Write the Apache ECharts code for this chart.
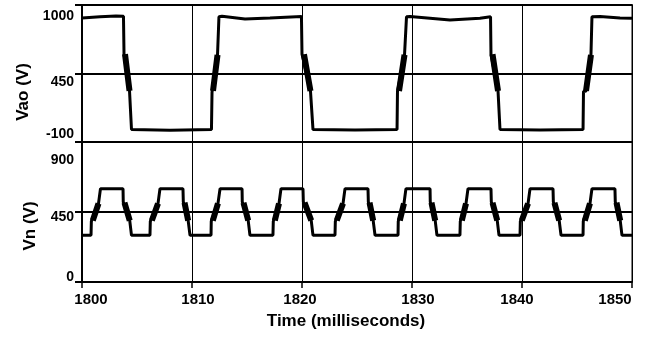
<!DOCTYPE html>
<html>
<head>
<meta charset="utf-8">
<script src="https://cdn.jsdelivr.net/npm/echarts@6/dist/echarts.min.js"></script>
<style>
html,body{margin:0;padding:0;background:#fff;}
#c{width:645px;height:339px;}
</style>
</head>
<body>
<div id="c"></div>
<script>
// ---- data (time in ms, voltage in V) ----
const xTicks = [1800, 1810, 1820, 1830, 1840, 1850];
const vaoTicks = [-100, 450, 1000];
const vnTicks = [0, 450, 900];

const vaoWave = [
 [1800.00,895],[1801.64,905],[1803.09,912],[1803.77,910],[1803.82,605],[1803.91,605],[1804.32,310],[1804.45,300],[1804.50,0],
 [1808.00,-5],[1811.77,0],[1811.82,300],[1811.91,310],[1812.32,600],[1812.36,605],[1812.45,905],[1812.73,910],
 [1814.82,888],[1817.09,895],[1819.95,908],[1820.00,605],[1820.18,605],[1820.77,310],[1820.91,300],[1821.00,0],
 [1824.82,-3],[1828.64,0],[1828.68,305],[1828.82,310],[1829.32,600],[1829.45,605],[1829.50,905],[1829.82,908],
 [1833.45,880],[1836.18,893],[1837.14,905],[1837.18,605],[1837.32,605],[1837.82,310],[1837.91,300],[1838.00,0],
 [1841.64,-3],[1845.55,0],[1845.59,305],[1845.82,310],[1846.27,600],[1846.32,605],[1846.36,905],[1847.09,907],
 [1848.91,896],[1850.00,893]
];
const vaoSwitching = [
 [1803.91,605,1804.32,310],[1811.91,310,1812.32,600],[1820.18,605,1820.77,310],
 [1828.82,310,1829.32,600],[1837.32,605,1837.82,310],[1845.82,310,1846.27,600]
];

const vnWave = [
 [1800.00,300],
 [1800.82,300],[1800.85,390],[1800.98,395],[1801.50,505],[1801.61,515],[1801.68,600],
 [1803.73,600],[1803.75,515],[1803.86,510],[1804.34,395],[1804.45,390],[1804.50,300],
 [1806.18,300],[1806.21,390],[1806.35,395],[1806.91,505],[1807.02,515],[1807.09,600],
 [1809.18,600],[1809.21,515],[1809.32,510],[1809.65,395],[1809.77,390],[1809.82,300],
 [1811.73,300],[1811.75,390],[1811.89,395],[1812.36,505],[1812.47,515],[1812.55,600],
 [1814.55,600],[1814.57,515],[1814.68,510],[1815.11,395],[1815.23,390],[1815.27,300],
 [1817.36,300],[1817.39,390],[1817.53,395],[1817.91,505],[1818.02,515],[1818.09,600],
 [1820.09,600],[1820.12,515],[1820.23,510],[1820.84,395],[1820.95,390],[1821.00,300],
 [1823.00,300],[1823.03,390],[1823.16,395],[1823.73,505],[1823.84,515],[1823.91,600],
 [1826.00,600],[1826.03,515],[1826.14,510],[1826.47,395],[1826.59,390],[1826.64,300],
 [1828.73,300],[1828.75,390],[1828.89,395],[1829.27,505],[1829.38,515],[1829.45,600],
 [1831.64,600],[1831.66,515],[1831.77,510],[1832.11,395],[1832.23,390],[1832.27,300],
 [1834.36,300],[1834.39,390],[1834.53,395],[1834.91,505],[1835.02,515],[1835.09,600],
 [1837.18,600],[1837.21,515],[1837.32,510],[1837.75,395],[1837.86,390],[1837.91,300],
 [1839.82,300],[1839.85,390],[1839.98,395],[1840.55,505],[1840.65,515],[1840.73,600],
 [1842.82,600],[1842.85,515],[1842.95,510],[1843.38,395],[1843.50,390],[1843.55,300],
 [1845.55,300],[1845.57,390],[1845.71,395],[1846.18,505],[1846.29,515],[1846.36,600],
 [1848.45,600],[1848.48,515],[1848.59,510],[1848.93,395],[1849.05,390],[1849.09,300],
 [1850.00,300]
];
const vnSwitching = [
 [1800.98,395,1801.50,505],[1803.86,510,1804.34,395],
 [1806.35,395,1806.91,505],[1809.32,510,1809.65,395],
 [1811.89,395,1812.36,505],[1814.68,510,1815.11,395],
 [1817.53,395,1817.91,505],[1820.23,510,1820.84,395],
 [1823.16,395,1823.73,505],[1826.14,510,1826.47,395],
 [1828.89,395,1829.27,505],[1831.77,510,1832.11,395],
 [1834.53,395,1834.91,505],[1837.32,510,1837.75,395],
 [1839.98,395,1840.55,505],[1842.95,510,1843.38,395],
 [1845.71,395,1846.18,505],[1848.59,510,1848.93,395]
];
const gridLevel = 450;

// ---- build helpers ----
function bandData(list) {
  const out = [];
  list.forEach(s => { out.push([s[0], s[1]]); out.push([s[2], s[3]]); out.push([s[2], '-']); });
  return out;
}
const FONT = "'Liberation Sans', Arial, Helvetica, sans-serif";
function tok(extra, size) {
  return Object.assign({fontFamily: FONT, fontSize: size || 14, fontWeight: 'bold', color: '#000'}, extra);
}
const keyOf = (p, v) => p + String(v).replace('-', 'm');

const xRich = {
  x1800: tok({padding: [0, 0, 0, 18]}, 15),
  x1810: tok({padding: [0, 0, 0, 12]}, 15),
  x1820: tok({padding: [0, 4, 0, 0]}, 15),
  x1830: tok({padding: [0, 0, 0, 12]}, 15),
  x1840: tok({padding: [0, 10, 0, 0]}, 15),
  x1850: tok({padding: [0, 34, 0, 0]}, 15)
};
const aRich = {
  a1000: tok({padding: [22, 0, 0, 0]}),
  a450: tok({padding: [18, 0, 0, 0]}),
  am100: tok({padding: [0, 0, 16, 0]})
};
const bRich = {
  b900: tok({padding: [37, 0, 0, 0]}),
  b450: tok({padding: [11, 0, 0, 0]}),
  b0: tok({padding: [0, 0, 10, 0]})
};

const axisLineStyle = {show: true, onZero: false, lineStyle: {color: '#000', width: 2}};
const nameStyle = {fontFamily: FONT, fontSize: 17, fontWeight: 'bold', color: '#000'};

const chart = echarts.init(document.getElementById('c'), null, {renderer: 'canvas'});
chart.setOption({
  animation: false,
  backgroundColor: '#fff',
  grid: [
    {left: 82, right: 13, top: 5, height: 137, show: true, borderColor: '#000', borderWidth: 1},
    {left: 82, right: 13, top: 142, height: 140, show: true, borderColor: '#000', borderWidth: 1}
  ],
  xAxis: [
    {gridIndex: 0, type: 'value', min: 1800, max: 1850, interval: 10,
     axisLine: axisLineStyle, axisTick: {show: false}, axisLabel: {show: false},
     splitLine: {show: true, lineStyle: {color: '#000', width: 1}}},
    {gridIndex: 0, type: 'value', position: 'top', min: 1800, max: 1850, interval: 10,
     axisLine: axisLineStyle, axisTick: {show: false}, axisLabel: {show: false}, splitLine: {show: false}},
    {gridIndex: 1, type: 'value', position: 'bottom', min: 1800, max: 1850, interval: 10,
     axisLine: axisLineStyle,
     axisTick: {show: true, length: 6, lineStyle: {color: '#000', width: 1.5}},
     axisLabel: {margin: 10, formatter: v => '{' + keyOf('x', v) + '|' + v + '}', rich: xRich,
                 customValues: xTicks},
     splitLine: {show: true, lineStyle: {color: '#000', width: 1}},
     name: 'Time (milliseconds)', nameLocation: 'middle', nameGap: 31,
     nameTextStyle: Object.assign({padding: [0, 22, 0, 0]}, nameStyle)}
  ],
  yAxis: [
    {gridIndex: 0, type: 'value', min: -100, max: 1000,
     axisLine: axisLineStyle,
     axisTick: {show: true, length: 7, customValues: vaoTicks, lineStyle: {color: '#000', width: 2}},
     axisLabel: {margin: 8, customValues: vaoTicks, formatter: v => '{' + keyOf('a', v) + '|' + v + '}', rich: aRich},
     splitLine: {show: false},
     name: 'Vao (V)', nameLocation: 'middle', nameGap: 43,
     nameTextStyle: Object.assign({padding: [0, 37, 0, 0]}, nameStyle)},
    {gridIndex: 1, type: 'value', min: 0, max: 900, interval: 450,
     axisLine: axisLineStyle,
     axisTick: {show: true, length: 7, customValues: vnTicks, lineStyle: {color: '#000', width: 2}},
     axisLabel: {margin: 8, customValues: vnTicks, formatter: v => '{' + keyOf('b', v) + '|' + v + '}', rich: bRich},
     splitLine: {show: false},
     name: 'Vn (V)', nameLocation: 'middle', nameGap: 43,
     nameTextStyle: Object.assign({padding: [0, 28, 0, 0]}, nameStyle)}
  ],
  series: [
    {type: 'line', xAxisIndex: 0, yAxisIndex: 0, data: vaoWave, showSymbol: false,
     lineStyle: {color: '#000', width: 3}, z: 3,
     markLine: {silent: true, symbol: 'none', label: {show: false},
                lineStyle: {color: '#000', width: 2, type: 'solid'}, data: [{yAxis: gridLevel}]}},
    {type: 'line', xAxisIndex: 0, yAxisIndex: 0, data: bandData(vaoSwitching), showSymbol: false,
     connectNulls: false, lineStyle: {color: '#000', width: 6, cap: 'butt'}, z: 4},
    {type: 'line', xAxisIndex: 2, yAxisIndex: 1, data: vnWave, showSymbol: false,
     lineStyle: {color: '#000', width: 3}, z: 3,
     markLine: {silent: true, symbol: 'none', label: {show: false},
                lineStyle: {color: '#000', width: 2, type: 'solid'}, data: [{yAxis: gridLevel}]}},
    {type: 'line', xAxisIndex: 2, yAxisIndex: 1, data: bandData(vnSwitching), showSymbol: false,
     connectNulls: false, lineStyle: {color: '#000', width: 6, cap: 'butt'}, z: 4}
  ]
});
</script>
</body>
</html>
